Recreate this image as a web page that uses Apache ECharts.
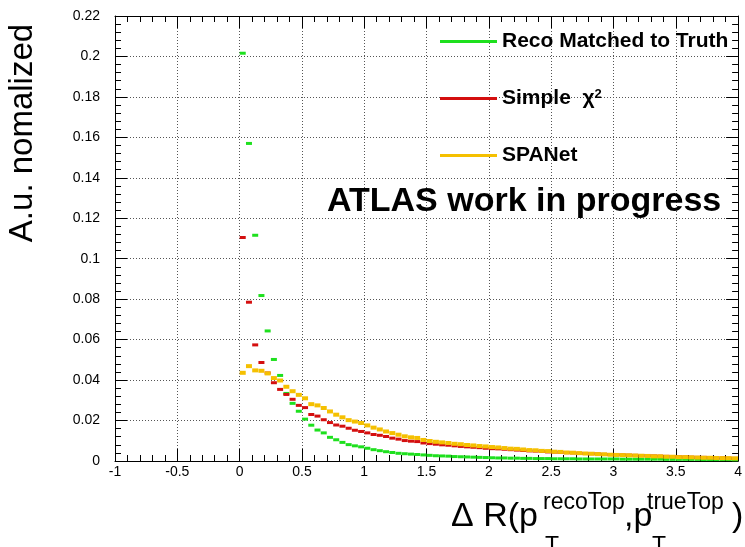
<!DOCTYPE html>
<html>
<head>
<meta charset="utf-8">
<script src="https://cdn.jsdelivr.net/npm/echarts@6/dist/echarts.min.js"></script>
<style>
html,body{margin:0;padding:0;background:#fff;}
#chart{width:745px;height:547px;}
</style>
</head>
<body>
<div id="chart"></div>
<script>
// Histogram binning: 80 bins of width 0.05 from 0 to 4
const binWidth = 0.05;
const binCount = 80;
const binCenters = Array.from({length: binCount}, (_, i) => +(binWidth * (i + 0.5)).toFixed(3));

const seriesNames = ['Reco Matched to Truth', 'Simple χ²', 'SPANet'];

const recoMatched = [
  0.2016, 0.1570, 0.1116, 0.0818, 0.0643, 0.0502, 0.0423, 0.0334, 0.0285, 0.0246,
  0.0207, 0.0177, 0.0153, 0.0139, 0.0117, 0.0105, 0.0092, 0.0081, 0.0075, 0.0070,
  0.0063, 0.0056, 0.0051, 0.0046, 0.0042, 0.0038, 0.0036, 0.0034, 0.0032, 0.0030,
  0.0028, 0.0026, 0.0025, 0.0024, 0.0022, 0.0021, 0.0020, 0.0019, 0.0018, 0.0017,
  0.0016, 0.0015, 0.0015, 0.0014, 0.0014, 0.0013, 0.0013, 0.0012, 0.0012, 0.0012,
  0.0011, 0.0011, 0.0011, 0.0011, 0.0010, 0.0010, 0.0010, 0.0010, 0.0010, 0.0010,
  0.0010, 0.0009, 0.0009, 0.0009, 0.0009, 0.0009, 0.0009, 0.0009, 0.0008, 0.0008,
  0.0008, 0.0008, 0.0008, 0.0008, 0.0007, 0.0007, 0.0007, 0.0007, 0.0007, 0.0006
];

const simpleChi2 = [
  0.1105, 0.0785, 0.0574, 0.0487, 0.0435, 0.0387, 0.0354, 0.0329, 0.0305, 0.0275,
  0.0264, 0.0230, 0.0222, 0.0204, 0.0190, 0.0178, 0.0172, 0.0162, 0.0152, 0.0146,
  0.0139, 0.0131, 0.0127, 0.0121, 0.0113, 0.0108, 0.0101, 0.0098, 0.0096, 0.0089,
  0.0086, 0.0083, 0.0080, 0.0078, 0.0075, 0.0072, 0.0070, 0.0068, 0.0066, 0.0063,
  0.0061, 0.0060, 0.0058, 0.0056, 0.0054, 0.0052, 0.0050, 0.0049, 0.0047, 0.0045,
  0.0044, 0.0042, 0.0041, 0.0040, 0.0038, 0.0037, 0.0036, 0.0035, 0.0033, 0.0032,
  0.0031, 0.0030, 0.0029, 0.0028, 0.0027, 0.0026, 0.0025, 0.0024, 0.0023, 0.0022,
  0.0021, 0.0020, 0.0019, 0.0018, 0.0018, 0.0017, 0.0016, 0.0015, 0.0014, 0.0013
];

const spaNet = [
  0.0436, 0.0469, 0.0448, 0.0446, 0.0433, 0.0410, 0.0398, 0.0367, 0.0345, 0.0327,
  0.0310, 0.0281, 0.0275, 0.0262, 0.0245, 0.0229, 0.0216, 0.0202, 0.0195, 0.0188,
  0.0176, 0.0165, 0.0156, 0.0146, 0.0138, 0.0130, 0.0122, 0.0117, 0.0114, 0.0104,
  0.0099, 0.0095, 0.0092, 0.0089, 0.0085, 0.0083, 0.0079, 0.0077, 0.0074, 0.0072,
  0.0069, 0.0067, 0.0064, 0.0061, 0.0060, 0.0057, 0.0054, 0.0053, 0.0050, 0.0049,
  0.0046, 0.0045, 0.0042, 0.0041, 0.0039, 0.0037, 0.0036, 0.0034, 0.0033, 0.0031,
  0.0030, 0.0029, 0.0028, 0.0027, 0.0026, 0.0025, 0.0023, 0.0023, 0.0021, 0.0021,
  0.0019, 0.0019, 0.0018, 0.0017, 0.0016, 0.0016, 0.0015, 0.0014, 0.0014, 0.0013
];

const xMin = -1, xMax = 4, xStep = 0.5;
const yMin = 0, yMax = 0.22, yStep = 0.02;

const FONT = '"Liberation Sans", Arial, Helvetica, sans-serif';
const colors = ['#1ee01e', '#d40f0f', '#f5c000'];

const chart = echarts.init(document.getElementById('chart'), null, {renderer: 'canvas'});

function pairs(vals) { return binCenters.map((x, i) => [x, vals[i]]); }

const gridLine = {show: true, lineStyle: {color: '#555', width: 1, type: [1, 2]}};
const majorTick = {show: true, inside: true, length: 12, lineStyle: {color: '#000', width: 1}};
const minorTick = {show: true, splitNumber: 5, length: 6, lineStyle: {color: '#000', width: 1}};
const axisLine = {show: true, onZero: false, lineStyle: {color: '#000', width: 1}};

const option = {
  animation: false,
  backgroundColor: '#fff',
  grid: {left: 115, right: 3, top: 16, bottom: 86, containLabel: false},
  xAxis: [
    {
      type: 'value', min: xMin, max: xMax, interval: xStep, position: 'bottom',
      axisLine: axisLine, axisTick: majorTick, minorTick: minorTick,
      splitLine: gridLine,
      axisLabel: {color: '#000', fontSize: 14, fontFamily: FONT, margin: 4,
        formatter: v => String(+v.toFixed(2))}
    },
    {
      type: 'value', min: xMin, max: xMax, interval: xStep, position: 'top',
      axisLine: axisLine, axisTick: majorTick, minorTick: minorTick,
      splitLine: {show: false}, axisLabel: {show: false}
    }
  ],
  yAxis: [
    {
      type: 'value', min: yMin, max: yMax, interval: yStep, position: 'left',
      axisLine: axisLine, axisTick: majorTick, minorTick: minorTick,
      splitLine: gridLine,
      axisLabel: {color: '#000', fontSize: 14, fontFamily: FONT, margin: 15,
        formatter: v => String(+v.toFixed(2))}
    },
    {
      type: 'value', min: yMin, max: yMax, interval: yStep, position: 'right',
      axisLine: axisLine, axisTick: majorTick, minorTick: minorTick,
      splitLine: {show: false}, axisLabel: {show: false}
    }
  ],
  legend: {
    orient: 'vertical', left: 435, top: 26,
    itemWidth: 57, itemHeight: 3, itemGap: 36,
    icon: 'rect',
    data: seriesNames,
    textStyle: {
      fontFamily: FONT, fontSize: 21, fontWeight: 'bold', color: '#000', lineHeight: 21,
      rich: {
        b: {fontFamily: FONT, fontSize: 21, fontWeight: 'bold', color: '#000', lineHeight: 21},
        c: {fontFamily: FONT, fontSize: 21, color: '#000', lineHeight: 21},
        s: {fontFamily: FONT, fontSize: 13, color: '#000', lineHeight: 21, verticalAlign: 'top', padding: [0, 0, 8, 0]}
      }
    },
    formatter: function (name) {
      if (name === 'Simple χ²') return '{b|Simple}  {c|χ}{s|2}';
      return name;
    }
  },
  series: [
    {name: seriesNames[0], type: 'scatter', data: pairs(recoMatched), symbol: 'rect', symbolSize: [6, 3],
      itemStyle: {color: colors[0], opacity: 1}, z: 3},
    {name: seriesNames[1], type: 'scatter', data: pairs(simpleChi2), symbol: 'rect', symbolSize: [6, 3],
      itemStyle: {color: colors[1], opacity: 1}, z: 4},
    {name: seriesNames[2], type: 'scatter', data: pairs(spaNet), symbol: 'rect', symbolSize: [6, 4],
      itemStyle: {color: colors[2], opacity: 1}, z: 5}
  ],
  graphic: [
    {type: 'text', left: 327, top: 185, z: 10,
      style: {text: 'ATLAS work in progress', font: 'bold 34px ' + FONT, fill: '#000'}},
    {type: 'text', x: 23, y: 133, rotation: Math.PI / 2, z: 10,
      style: {text: 'A.u. nomalized', font: '33px ' + FONT, fill: '#000', align: 'center', verticalAlign: 'middle'}},
    {type: 'text', x: 451, y: 517, z: 10,
      style: {text: 'Δ R(p', font: '34px ' + FONT, fill: '#000', align: 'left', verticalAlign: 'middle'}},
    {type: 'text', x: 543, y: 503, z: 10,
      style: {text: 'recoTop', font: '23px ' + FONT, fill: '#000', align: 'left', verticalAlign: 'middle'}},
    {type: 'text', x: 545, y: 547, z: 10,
      style: {text: 'T', font: '23px ' + FONT, fill: '#000', align: 'left', verticalAlign: 'middle'}},
    {type: 'text', x: 624, y: 517, z: 10,
      style: {text: ',p', font: '34px ' + FONT, fill: '#000', align: 'left', verticalAlign: 'middle'}},
    {type: 'text', x: 647, y: 503, z: 10,
      style: {text: 'trueTop', font: '23px ' + FONT, fill: '#000', align: 'left', verticalAlign: 'middle'}},
    {type: 'text', x: 652, y: 547, z: 10,
      style: {text: 'T', font: '23px ' + FONT, fill: '#000', align: 'left', verticalAlign: 'middle'}},
    {type: 'text', x: 732, y: 517, z: 10,
      style: {text: ')', font: '34px ' + FONT, fill: '#000', align: 'left', verticalAlign: 'middle'}}
  ]
};

chart.setOption(option);
</script>
</body>
</html>
